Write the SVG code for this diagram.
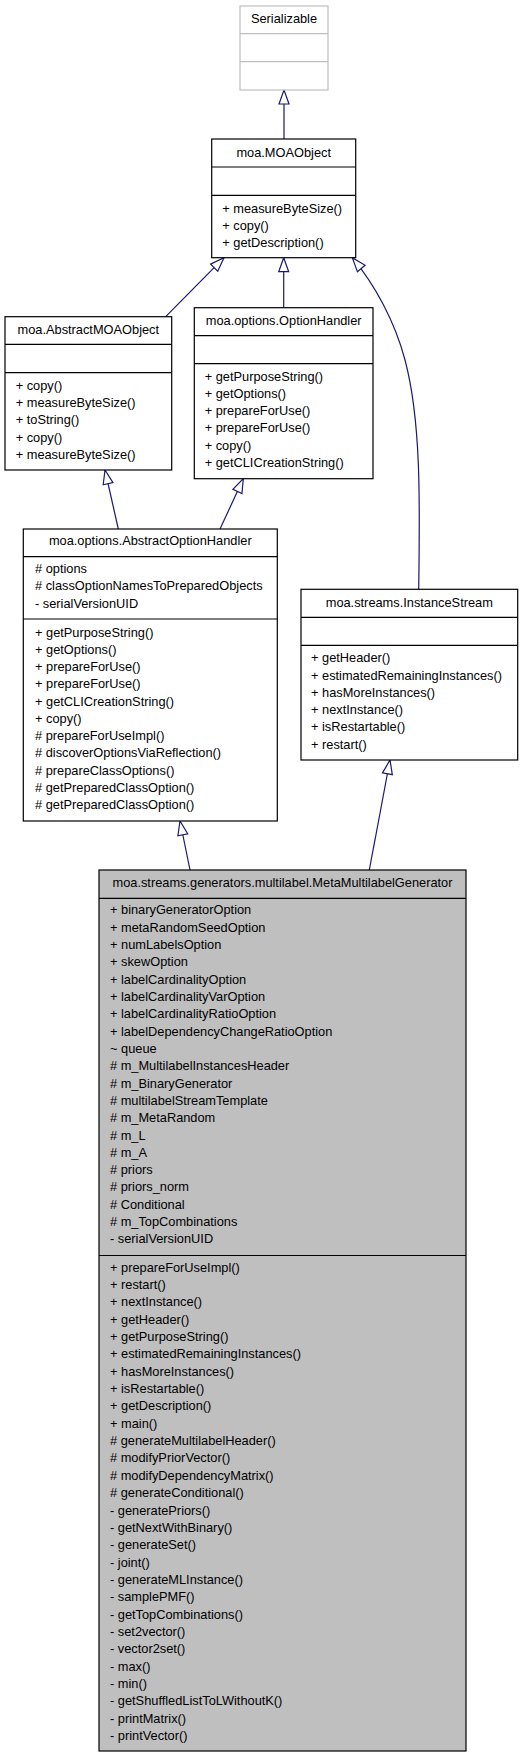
<svg xmlns="http://www.w3.org/2000/svg" width="528" height="1757" viewBox="0 0 528 1757">
<style>
text{font-family:"Liberation Sans",Arial,Helvetica,sans-serif;font-size:12.8px;fill:#000}
.t{text-anchor:middle}
.box{fill:#fff;stroke:#000;stroke-width:1.2}
.gbox{fill:#fff;stroke:#bfbfbf;stroke-width:1.2}
.mbox{fill:#bfbfbf;stroke:#000;stroke-width:1.2}
.div{stroke:#000;stroke-width:1.2}
.gdiv{stroke:#bfbfbf;stroke-width:1.2}
.edge{fill:none;stroke:#191970;stroke-width:1.2;marker-end:url(#tri)}
</style>
<defs>
<marker id="tri" markerUnits="userSpaceOnUse" viewBox="-1 -7 17 14" refX="14" refY="0" markerWidth="17" markerHeight="14" orient="auto">
<path d="M0,-5 L14,0 L0,5 Z" fill="#fff" stroke="#191970" stroke-width="1.2"/>
</marker>
</defs>
<rect width="528" height="1757" fill="#fff"/>
<g id="connectors">
<path class="edge" d="M284,139 L284,90"/>
<path class="edge" d="M165.7,316.7 L224,257.7"/>
<path class="edge" d="M283.7,307.7 L283.7,257.7"/>
<path class="edge" d="M418.7,589.3 C420,500 421,420 405,360 C395,322 375,285 352.3,257.7"/>
<path class="edge" d="M118.3,529 L105,470"/>
<path class="edge" d="M220,529 L243.3,478.7"/>
<path class="edge" d="M190,870 L180,821"/>
<path class="edge" d="M369.3,870 L390,760"/>
</g>
<g id="Serializable">
<rect class="gbox" x="240" y="6" width="88" height="84"/>
<line class="gdiv" x1="240" y1="33.7" x2="328" y2="33.7"/>
<line class="gdiv" x1="240" y1="61.7" x2="328" y2="61.7"/>
<text class="t" x="284" y="23.3">Serializable</text>
</g>
<g id="MOAObject">
<rect class="box" x="211.7" y="139" width="144" height="118.7"/>
<line class="div" x1="211.7" y1="167" x2="355.7" y2="167"/>
<line class="div" x1="211.7" y1="195.3" x2="355.7" y2="195.3"/>
<text class="t" x="283.7" y="156.7">moa.MOAObject</text>
<text x="222.3" y="212.7">+ measureByteSize()</text>
<text x="222.3" y="230">+ copy()</text>
<text x="222.3" y="246.7">+ getDescription()</text>
</g>
<g id="AbstractMOAObject">
<rect class="box" x="5" y="316.7" width="166.7" height="153.3"/>
<line class="div" x1="5" y1="344.3" x2="171.7" y2="344.3"/>
<line class="div" x1="5" y1="372.7" x2="171.7" y2="372.7"/>
<text class="t" x="88.3" y="334">moa.AbstractMOAObject</text>
<text x="15.7" y="390">+ copy()</text>
<text x="15.7" y="407.3">+ measureByteSize()</text>
<text x="15.7" y="424.3">+ toString()</text>
<text x="15.7" y="441.7">+ copy()</text>
<text x="15.7" y="459">+ measureByteSize()</text>
</g>
<g id="OptionHandler">
<rect class="box" x="194.3" y="307.7" width="178.7" height="171"/>
<line class="div" x1="194.3" y1="335.7" x2="373" y2="335.7"/>
<line class="div" x1="194.3" y1="363.7" x2="373" y2="363.7"/>
<text class="t" x="283.7" y="325">moa.options.OptionHandler</text>
<text x="204.7" y="380.7">+ getPurposeString()</text>
<text x="204.7" y="397.9">+ getOptions()</text>
<text x="204.7" y="415.1">+ prepareForUse()</text>
<text x="204.7" y="432.3">+ prepareForUse()</text>
<text x="204.7" y="449.5">+ copy()</text>
<text x="204.7" y="466.7">+ getCLICreationString()</text>
</g>
<g id="AbstractOptionHandler">
<rect class="box" x="23.3" y="529" width="254" height="292"/>
<line class="div" x1="23.3" y1="556.7" x2="277.3" y2="556.7"/>
<line class="div" x1="23.3" y1="619" x2="277.3" y2="619"/>
<text class="t" x="150.3" y="545">moa.options.AbstractOptionHandler</text>
<text x="35" y="573.3"># options</text>
<text x="35" y="590.3"># classOptionNamesToPreparedObjects</text>
<text x="35" y="607.7">- serialVersionUID</text>
<text x="35" y="636.7">+ getPurposeString()</text>
<text x="35" y="653.9">+ getOptions()</text>
<text x="35" y="671.2">+ prepareForUse()</text>
<text x="35" y="688.4">+ prepareForUse()</text>
<text x="35" y="705.6">+ getCLICreationString()</text>
<text x="35" y="722.9">+ copy()</text>
<text x="35" y="740.1"># prepareForUseImpl()</text>
<text x="35" y="757.3"># discoverOptionsViaReflection()</text>
<text x="35" y="774.5"># prepareClassOptions()</text>
<text x="35" y="791.8"># getPreparedClassOption()</text>
<text x="35" y="809"># getPreparedClassOption()</text>
</g>
<g id="InstanceStream">
<rect class="box" x="301" y="589.3" width="216.7" height="170.7"/>
<line class="div" x1="301" y1="617.3" x2="517.7" y2="617.3"/>
<line class="div" x1="301" y1="645.3" x2="517.7" y2="645.3"/>
<text class="t" x="409.3" y="606.7">moa.streams.InstanceStream</text>
<text x="311" y="662.3">+ getHeader()</text>
<text x="311" y="679.6">+ estimatedRemainingInstances()</text>
<text x="311" y="696.9">+ hasMoreInstances()</text>
<text x="311" y="714.1">+ nextInstance()</text>
<text x="311" y="731.4">+ isRestartable()</text>
<text x="311" y="748.7">+ restart()</text>
</g>
<g id="MetaMultilabelGenerator">
<rect class="mbox" x="99" y="870" width="367" height="881"/>
<line class="div" x1="99" y1="898.3" x2="466" y2="898.3"/>
<line class="div" x1="99" y1="1255.5" x2="466" y2="1255.5"/>
<text class="t" x="282.5" y="886.7">moa.streams.generators.multilabel.MetaMultilabelGenerator</text>
<text x="110" y="914.3">+ binaryGeneratorOption</text>
<text x="110" y="931.6">+ metaRandomSeedOption</text>
<text x="110" y="948.9">+ numLabelsOption</text>
<text x="110" y="966.3">+ skewOption</text>
<text x="110" y="983.6">+ labelCardinalityOption</text>
<text x="110" y="1000.9">+ labelCardinalityVarOption</text>
<text x="110" y="1018.2">+ labelCardinalityRatioOption</text>
<text x="110" y="1035.5">+ labelDependencyChangeRatioOption</text>
<text x="110" y="1052.9">~ queue</text>
<text x="110" y="1070.2"># m_MultilabelInstancesHeader</text>
<text x="110" y="1087.5"># m_BinaryGenerator</text>
<text x="110" y="1104.8"># multilabelStreamTemplate</text>
<text x="110" y="1122.1"># m_MetaRandom</text>
<text x="110" y="1139.5"># m_L</text>
<text x="110" y="1156.8"># m_A</text>
<text x="110" y="1174.1"># priors</text>
<text x="110" y="1191.4"># priors_norm</text>
<text x="110" y="1208.7"># Conditional</text>
<text x="110" y="1226"># m_TopCombinations</text>
<text x="110" y="1243.3">- serialVersionUID</text>
<text x="110" y="1271.7">+ prepareForUseImpl()</text>
<text x="110" y="1289">+ restart()</text>
<text x="110" y="1306.4">+ nextInstance()</text>
<text x="110" y="1323.7">+ getHeader()</text>
<text x="110" y="1341.1">+ getPurposeString()</text>
<text x="110" y="1358.4">+ estimatedRemainingInstances()</text>
<text x="110" y="1375.7">+ hasMoreInstances()</text>
<text x="110" y="1393.1">+ isRestartable()</text>
<text x="110" y="1410.4">+ getDescription()</text>
<text x="110" y="1427.8">+ main()</text>
<text x="110" y="1445.1"># generateMultilabelHeader()</text>
<text x="110" y="1462.4"># modifyPriorVector()</text>
<text x="110" y="1479.8"># modifyDependencyMatrix()</text>
<text x="110" y="1497.1"># generateConditional()</text>
<text x="110" y="1514.5">- generatePriors()</text>
<text x="110" y="1531.8">- getNextWithBinary()</text>
<text x="110" y="1549.1">- generateSet()</text>
<text x="110" y="1566.5">- joint()</text>
<text x="110" y="1583.8">- generateMLInstance()</text>
<text x="110" y="1601.2">- samplePMF()</text>
<text x="110" y="1618.5">- getTopCombinations()</text>
<text x="110" y="1635.8">- set2vector()</text>
<text x="110" y="1653.2">- vector2set()</text>
<text x="110" y="1670.5">- max()</text>
<text x="110" y="1687.9">- min()</text>
<text x="110" y="1705.2">- getShuffledListToLWithoutK()</text>
<text x="110" y="1722.6">- printMatrix()</text>
<text x="110" y="1739.9">- printVector()</text>
</g>
</svg>
